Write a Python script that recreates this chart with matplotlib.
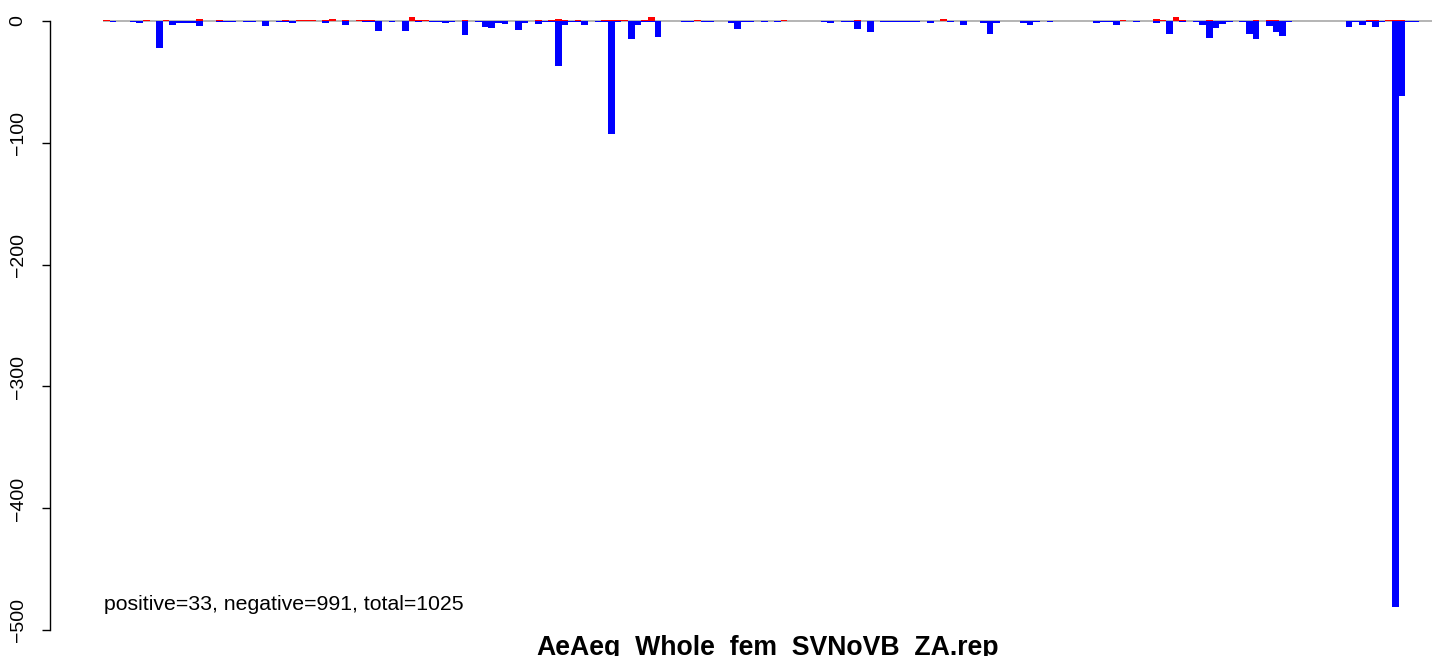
import numpy as np
import matplotlib
matplotlib.use('Agg')
import matplotlib.pyplot as plt
from matplotlib.transforms import ScaledTranslation

plt.rcParams['font.family'] = ['Liberation Sans', 'DejaVu Sans']

title = 'AeAeg_Whole_fem_SVNoVB_ZA.rep'
summary = 'positive=33, negative=991, total=1025'
yticks = [0, -100, -200, -300, -400, -500]

# per-bin sums of negative scores (blue)
neg = [0, -0.5, 0, 0, -0.5, -1.5, 0, 0, -22, 0, -3, -1.5, -1.5, -1.5, -4, 0, 0, -1.2, -0.5, -0.5,
       0, -0.5, -0.5, 0, -4, 0, -0.5, -0.5, -1.5, 0, -0.4, -0.4, 0, -1.5, -0.4, -0.4, -3, 0, 0, -0.5,
       -1, -8, 0, -1.2, 0, -8, 0, -0.5, 0, -0.5, -1, -1.5, -1, 0, -11.5, 0, -0.5, -5, -5.7, -1.5,
       -2.5, 0, -7.4, -2, 0, -2.5, -0.5, -0.5, -37, -3, -0.5, -0.5, -3, 0, -1, -0.5, -93, -0.5, 0, -14.5,
       -3, -0.5, -0.5, -13.5, 0, 0, 0, -0.5, -0.5, 0, -0.5, -0.5, 0, 0, -2, -6.3, -0.5, -0.5, 0, -0.5,
       0, -0.5, 0, 0, 0, 0, 0, 0, -0.5, -2, 0, -0.5, -0.5, -6.3, 0, -8.8, 0, -0.5, -0.5, -0.5,
       -0.5, -0.5, -0.5, 0, -1.4, 0, 0, -0.5, 0, -3, 0, 0, -1.5, -10.4, -1.5, 0, 0, 0, -1.5, -3,
       -0.5, 0, -0.5, 0, 0, 0, 0, 0, 0, -1.5, -0.5, -0.5, -3, 0, 0, -0.5, 0, 0, -2, 0,
       -11, 0, -0.5, 0, -0.5, -3, -13.7, -5.7, -2.5, -1, 0, -0.5, -10.4, -14.5, 0, -4, -9, -12.3, -0.5, 0,
       0, 0, 0, 0, 0, 0, 0, -5, -0.5, -3, -0.5, -4.6, -0.5, 0, -481, -62, -0.5, -0.5, 0, 0]

# per-bin sums of positive scores (red)
pos = [1, 0, 0, 0, 0, 0, 0.8, 0, 0, 0.8, 0, 0, 0, 0, 2, 0, 0, 0.8, 0, 0,
       0, 0, 0, 0, 0, 0, 0, 0.8, 0, 0.8, 0.8, 0.8, 0, 0.8, 1.5, 0, 0.8, 0, 0.8, 0.8,
       0.8, 0, 0, 0, 0, 0, 3.5, 0.8, 0.5, 0, 0, 0, 0, 0, 0.8, 0, 0, 0, 0, 0,
       0, 0, 0, 0, 0, 0.8, 0, 0.8, 1.5, 0.8, 0, 0.8, 0, 0, 0, 0.8, 0.8, 0.8, 0.8, 0,
       0, 0.8, 3.5, 0, 0, 0, 0, 0, 0, 0.8, 0, 0, 0, 0, 0, 0, 0, 0, 0, 0,
       0, 0, 0.8, 0, 0, 0, 0, 0, 0, 0, 0, 0, 0, 0.8, 0, 0, 0, 0, 0, 0,
       0, 0, 0, 0, 0, 0, 1.6, 0, 0, 0, 0, 0, 0, 0, 0, 0, 0, 0, 0, 0,
       0, 0, 0, 0, 0, 0, 0, 0, 0, 0, 0, 0, 0, 0.8, 0, 0, 0, 0, 1.6, 0.8,
       0, 3.3, 0.8, 0, 0, 0, 0.8, 0, 0, 0, 0, 0, 0, 0.8, 0, 0.8, 0.8, 0, 0, 0,
       0, 0, 0, 0, 0, 0, 0, 0, 0, 0, 0.8, 0.8, 0, 0.8, 0.8, 0.8, 0, 0, 0, 0]

n = len(neg)
x = np.arange(n)

fig = plt.figure(figsize=(14.52, 6.56), dpi=100)
ax = fig.add_axes([103 / 1452, 16 / 656, 1329 / 1452, 635 / 656])

ax.axhline(0, color='#a8a8a8', linewidth=1.2, zorder=1)
ax.bar(x, pos, width=1, align='edge', color='#ff0000', linewidth=0, zorder=2)
ax.bar(x, neg, width=1, align='edge', color='#0000ff', linewidth=0, zorder=2)

ax.set_xlim(0, n)
ax.set_ylim(-508.2, 13.1)

# y axis only, R style
for s in ['top', 'right', 'bottom']:
    ax.spines[s].set_visible(False)
ax.spines['left'].set_position(('outward', 38))
ax.spines['left'].set_bounds(-500, 0)
ax.spines['left'].set_linewidth(1.0)
ax.set_xticks([])
ax.set_yticks(yticks)
ax.set_yticklabels([str(v).replace('-', '\u2212') for v in yticks],
                   rotation=90, va='center', fontsize=14)
ax.tick_params(axis='y', length=6, width=1.0, pad=11)

# negative labels sit a little above their ticks in the original
shift = ScaledTranslation(0, 7 / 72, fig.dpi_scale_trans)
for lab in ax.get_yticklabels()[1:]:
    lab.set_transform(lab.get_transform() + shift)

ax.text(0.1, -479, summary, ha='left', va='center', fontsize=15.3)

fig.text(768 / 1452, 1 / 656, title, ha='center', va='baseline',
         fontsize=19.2, fontweight='bold')

fig.savefig('out.png', dpi=100)
